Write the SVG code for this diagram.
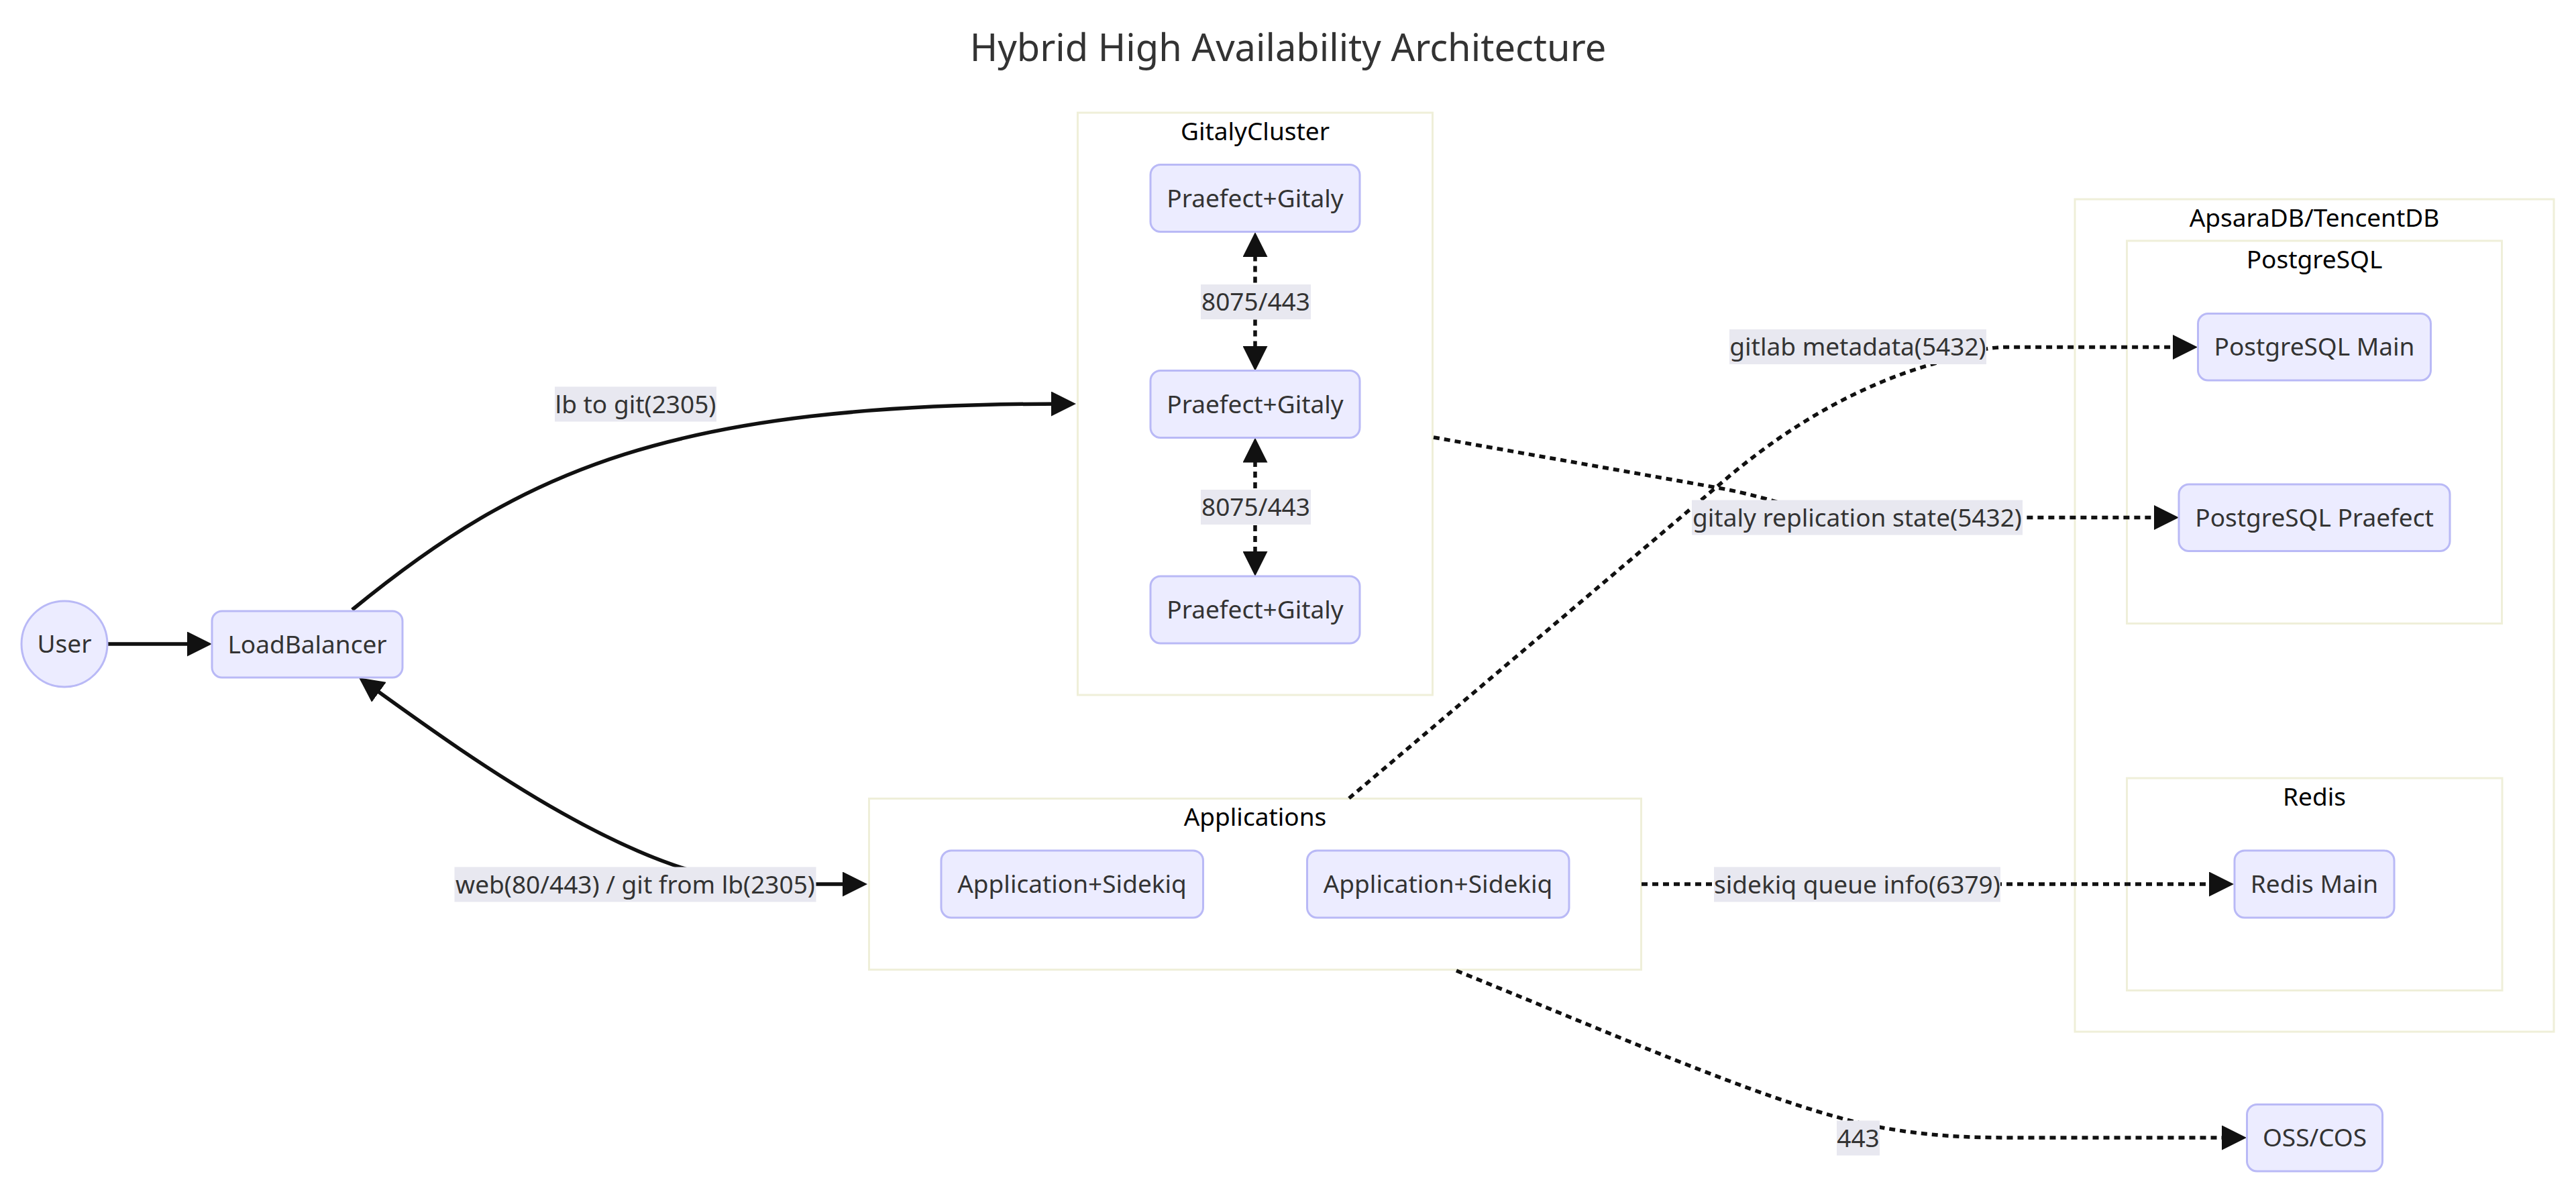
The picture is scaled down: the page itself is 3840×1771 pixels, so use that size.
<svg xmlns="http://www.w3.org/2000/svg" width="3840" height="1771" viewBox="0 0 3840 1771">
<style>
text{font-family:"Noto Sans","Open Sans","DejaVu Sans",sans-serif;text-anchor:middle}
.title{font-size:56px;fill:#333}
.node rect,.node circle{fill:#ececff;stroke:#b9b9f6;stroke-width:3}
.node text{font-size:37px;fill:#333}
.cluster rect{fill:#ffffff;stroke:#efefd9;stroke-width:3}
.cluster text{font-size:37px;fill:#000}
.edge{fill:none;stroke:#111;stroke-width:5.5}
.dot{stroke-dasharray:9 7}
.lbl rect{fill:#e8e8f0}
.lbl text{font-size:37px;fill:#333}
</style>
<defs>
<marker id="arrow" viewBox="0 0 10 10" refX="5" refY="5" markerUnits="userSpaceOnUse" markerWidth="37" markerHeight="37" orient="auto-start-reverse">
<path d="M0,0 L10,5 L0,10 z" fill="#111"/>
</marker>
</defs>
<rect width="3840" height="1771" fill="#ffffff"/>
<text class="title" x="1920" y="91">Hybrid High Availability Architecture</text>

<g id="clusters">
<g id="GitalyCluster" class="cluster"><rect x="1606.5" y="168" width="529" height="868"/><text x="1871" y="209">GitalyCluster</text></g>
<g id="Applications" class="cluster"><rect x="1295.5" y="1190.5" width="1151" height="255"/><text x="1871" y="1231">Applications</text></g>
<g id="ApsaraDB" class="cluster"><rect x="3093" y="297" width="714" height="1241"/><text x="3450" y="338">ApsaraDB/TencentDB</text></g>
<g id="PostgreSQL" class="cluster"><rect x="3170.5" y="359" width="559" height="570.5"/><text x="3450" y="400">PostgreSQL</text></g>
<g id="Redis" class="cluster"><rect x="3170.5" y="1160" width="559.5" height="316.5"/><text x="3450" y="1201">Redis</text></g>
</g>

<g id="connectors">
<path class="edge" d="M160,960 L297.5,960" marker-end="url(#arrow)"/>
<path class="edge" d="M525,909 C780,700 1000,602 1585.5,602" marker-end="url(#arrow)"/>
<path class="edge" d="M550,1021 C705,1133 960,1318 1150,1318 L1274.5,1318" marker-start="url(#arrow)" marker-end="url(#arrow)"/>
<path class="edge dot" d="M1871,364.5 L1871,534.5" marker-start="url(#arrow)" marker-end="url(#arrow)"/>
<path class="edge dot" d="M1871,671 L1871,840.5" marker-start="url(#arrow)" marker-end="url(#arrow)"/>
<path class="edge dot" d="M2137,652 L2560,727 C2650,743 2700,771 2780,771.5 L3229.5,771.5" marker-end="url(#arrow)"/>
<path class="edge dot" d="M2011,1190 L2580,708 C2680,625 2780,572 2880,543 C2920,531 2950,518 2990,517.5 L3257.5,517.5" marker-end="url(#arrow)"/>
<path class="edge dot" d="M2447,1318 L3311.5,1318" marker-end="url(#arrow)"/>
<path class="edge dot" d="M2171,1447 C2450,1560 2650,1650 2800,1680 C2870,1693 2930,1696 3000,1696 L3330.5,1696" marker-end="url(#arrow)"/>
<g class="lbl"><rect x="827" y="576.5" width="241" height="52"/><text x="947.5" y="615.5">lb to git(2305)</text></g>
<g class="lbl"><rect x="1790" y="424" width="164" height="52"/><text x="1872" y="463">8075/443</text></g>
<g class="lbl"><rect x="1790" y="730" width="164" height="52"/><text x="1872" y="769">8075/443</text></g>
<g class="lbl"><rect x="2578" y="491" width="383" height="52"/><text x="2769.5" y="530">gitlab metadata(5432)</text></g>
<g class="lbl"><rect x="2522" y="745.5" width="493" height="52"/><text x="2768.5" y="784.5">gitaly replication state(5432)</text></g>
<g class="lbl"><rect x="677.5" y="1292.5" width="539" height="52"/><text x="947" y="1331.5">web(80/443) / git from lb(2305)</text></g>
<g class="lbl"><rect x="2555" y="1292.5" width="427" height="52"/><text x="2768.5" y="1331.5">sidekiq queue info(6379)</text></g>
<g class="lbl"><rect x="2738" y="1670.5" width="64" height="52"/><text x="2770" y="1709.5">443</text></g>
</g>

<g id="User" class="node"><circle cx="96" cy="960" r="64"/><text x="96" y="973">User</text></g>
<g id="LoadBalancer" class="node"><rect x="316" y="911" width="284" height="99" rx="15"/><text x="458" y="973.5">LoadBalancer</text></g>
<g id="Gitaly1" class="node"><rect x="1715" y="245.5" width="312" height="100" rx="15"/><text x="1871" y="308.5">Praefect+Gitaly</text></g>
<g id="Gitaly2" class="node"><rect x="1715" y="552.5" width="312" height="100" rx="15"/><text x="1871" y="615.5">Praefect+Gitaly</text></g>
<g id="Gitaly3" class="node"><rect x="1715" y="859" width="312" height="100" rx="15"/><text x="1871" y="922">Praefect+Gitaly</text></g>
<g id="App1" class="node"><rect x="1403" y="1268" width="390.5" height="100" rx="15"/><text x="1598" y="1331">Application+Sidekiq</text></g>
<g id="App2" class="node"><rect x="1948.5" y="1268" width="390.5" height="100" rx="15"/><text x="2143.5" y="1331">Application+Sidekiq</text></g>
<g id="PGMain" class="node"><rect x="3276.5" y="467.5" width="347" height="99.5" rx="15"/><text x="3450" y="530">PostgreSQL Main</text></g>
<g id="PGPraefect" class="node"><rect x="3248" y="722" width="404" height="99.5" rx="15"/><text x="3450" y="784.5">PostgreSQL Praefect</text></g>
<g id="RedisMain" class="node"><rect x="3331" y="1268" width="238" height="100" rx="15"/><text x="3450" y="1331">Redis Main</text></g>
<g id="OSS" class="node"><rect x="3349.5" y="1646.5" width="202" height="99.5" rx="15"/><text x="3450.5" y="1709">OSS/COS</text></g>
</svg>
